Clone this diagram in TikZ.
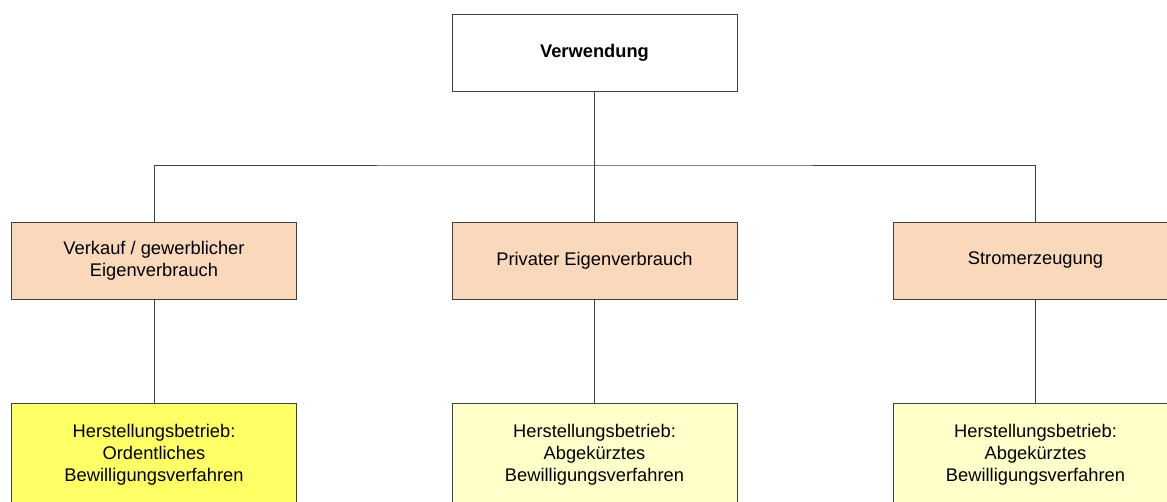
\documentclass[tikz,border=0pt]{standalone}
\usepackage{fontspec}
\setmainfont{Liberation Sans}
\usetikzlibrary{positioning}

\begin{document}
\begin{tikzpicture}[x=1pt, y=-1pt, line width=0.8pt,
		box/.style={rectangle, draw=black!75, minimum width=285pt, align=center, font=\fontsize{18.3}{22}\selectfont},
		topbox/.style={box, fill=white, minimum height=77pt, font=\fontsize{18.3}{22}\selectfont\bfseries},
		catbox/.style={box, fill=catcol, minimum height=77pt},
		procbox/.style={box, minimum height=104pt}]
		\definecolor{catcol}{HTML}{FAD8BC}
		\definecolor{ordcol}{HTML}{FFFF66}
		\definecolor{abgcol}{HTML}{FFFFC9}
		\useasboundingbox (0,0) rectangle (1167,502);
		\clip (0,0) rectangle (1167,502);
		\node (verw) [topbox] at (594.5,52.5) {Verwendung};
		
		\node (kauf)  [catbox] at (154,260.5) {Verkauf / gewerblicher\\Eigenverbrauch};
		\node (priv)  [catbox] at (594.5,260.5) {Privater Eigenverbrauch};
		\node (strom) [catbox] at (1035.5,260.5) {Stromerzeugung};
		
		\node (herst1) [procbox, fill=ordcol] at (154,455) {Herstellungsbetrieb:\\Ordentliches\\Bewilligungsverfahren};
		\node (herst2) [procbox, fill=abgcol] at (594.5,455) {Herstellungsbetrieb:\\Abgekürztes\\Bewilligungsverfahren};
		\node (herst3) [procbox, fill=abgcol] at (1035.5,455) {Herstellungsbetrieb:\\Abgekürztes\\Bewilligungsverfahren};
		
		\coordinate (bus) at (594.5,165);
		\draw [black!75] (verw.south) -- (bus);
		\draw [black!75] (kauf.north) |- (bus) -| (strom.north);
		\draw [black!75] (bus) -- (priv.north);
		
		\draw [black!75] (kauf.south) -- (herst1.north);
		\draw [black!75] (priv.south) -- (herst2.north);
		\draw [black!75] (strom.south) -- (herst3.north);
	\end{tikzpicture}
\end{document}
